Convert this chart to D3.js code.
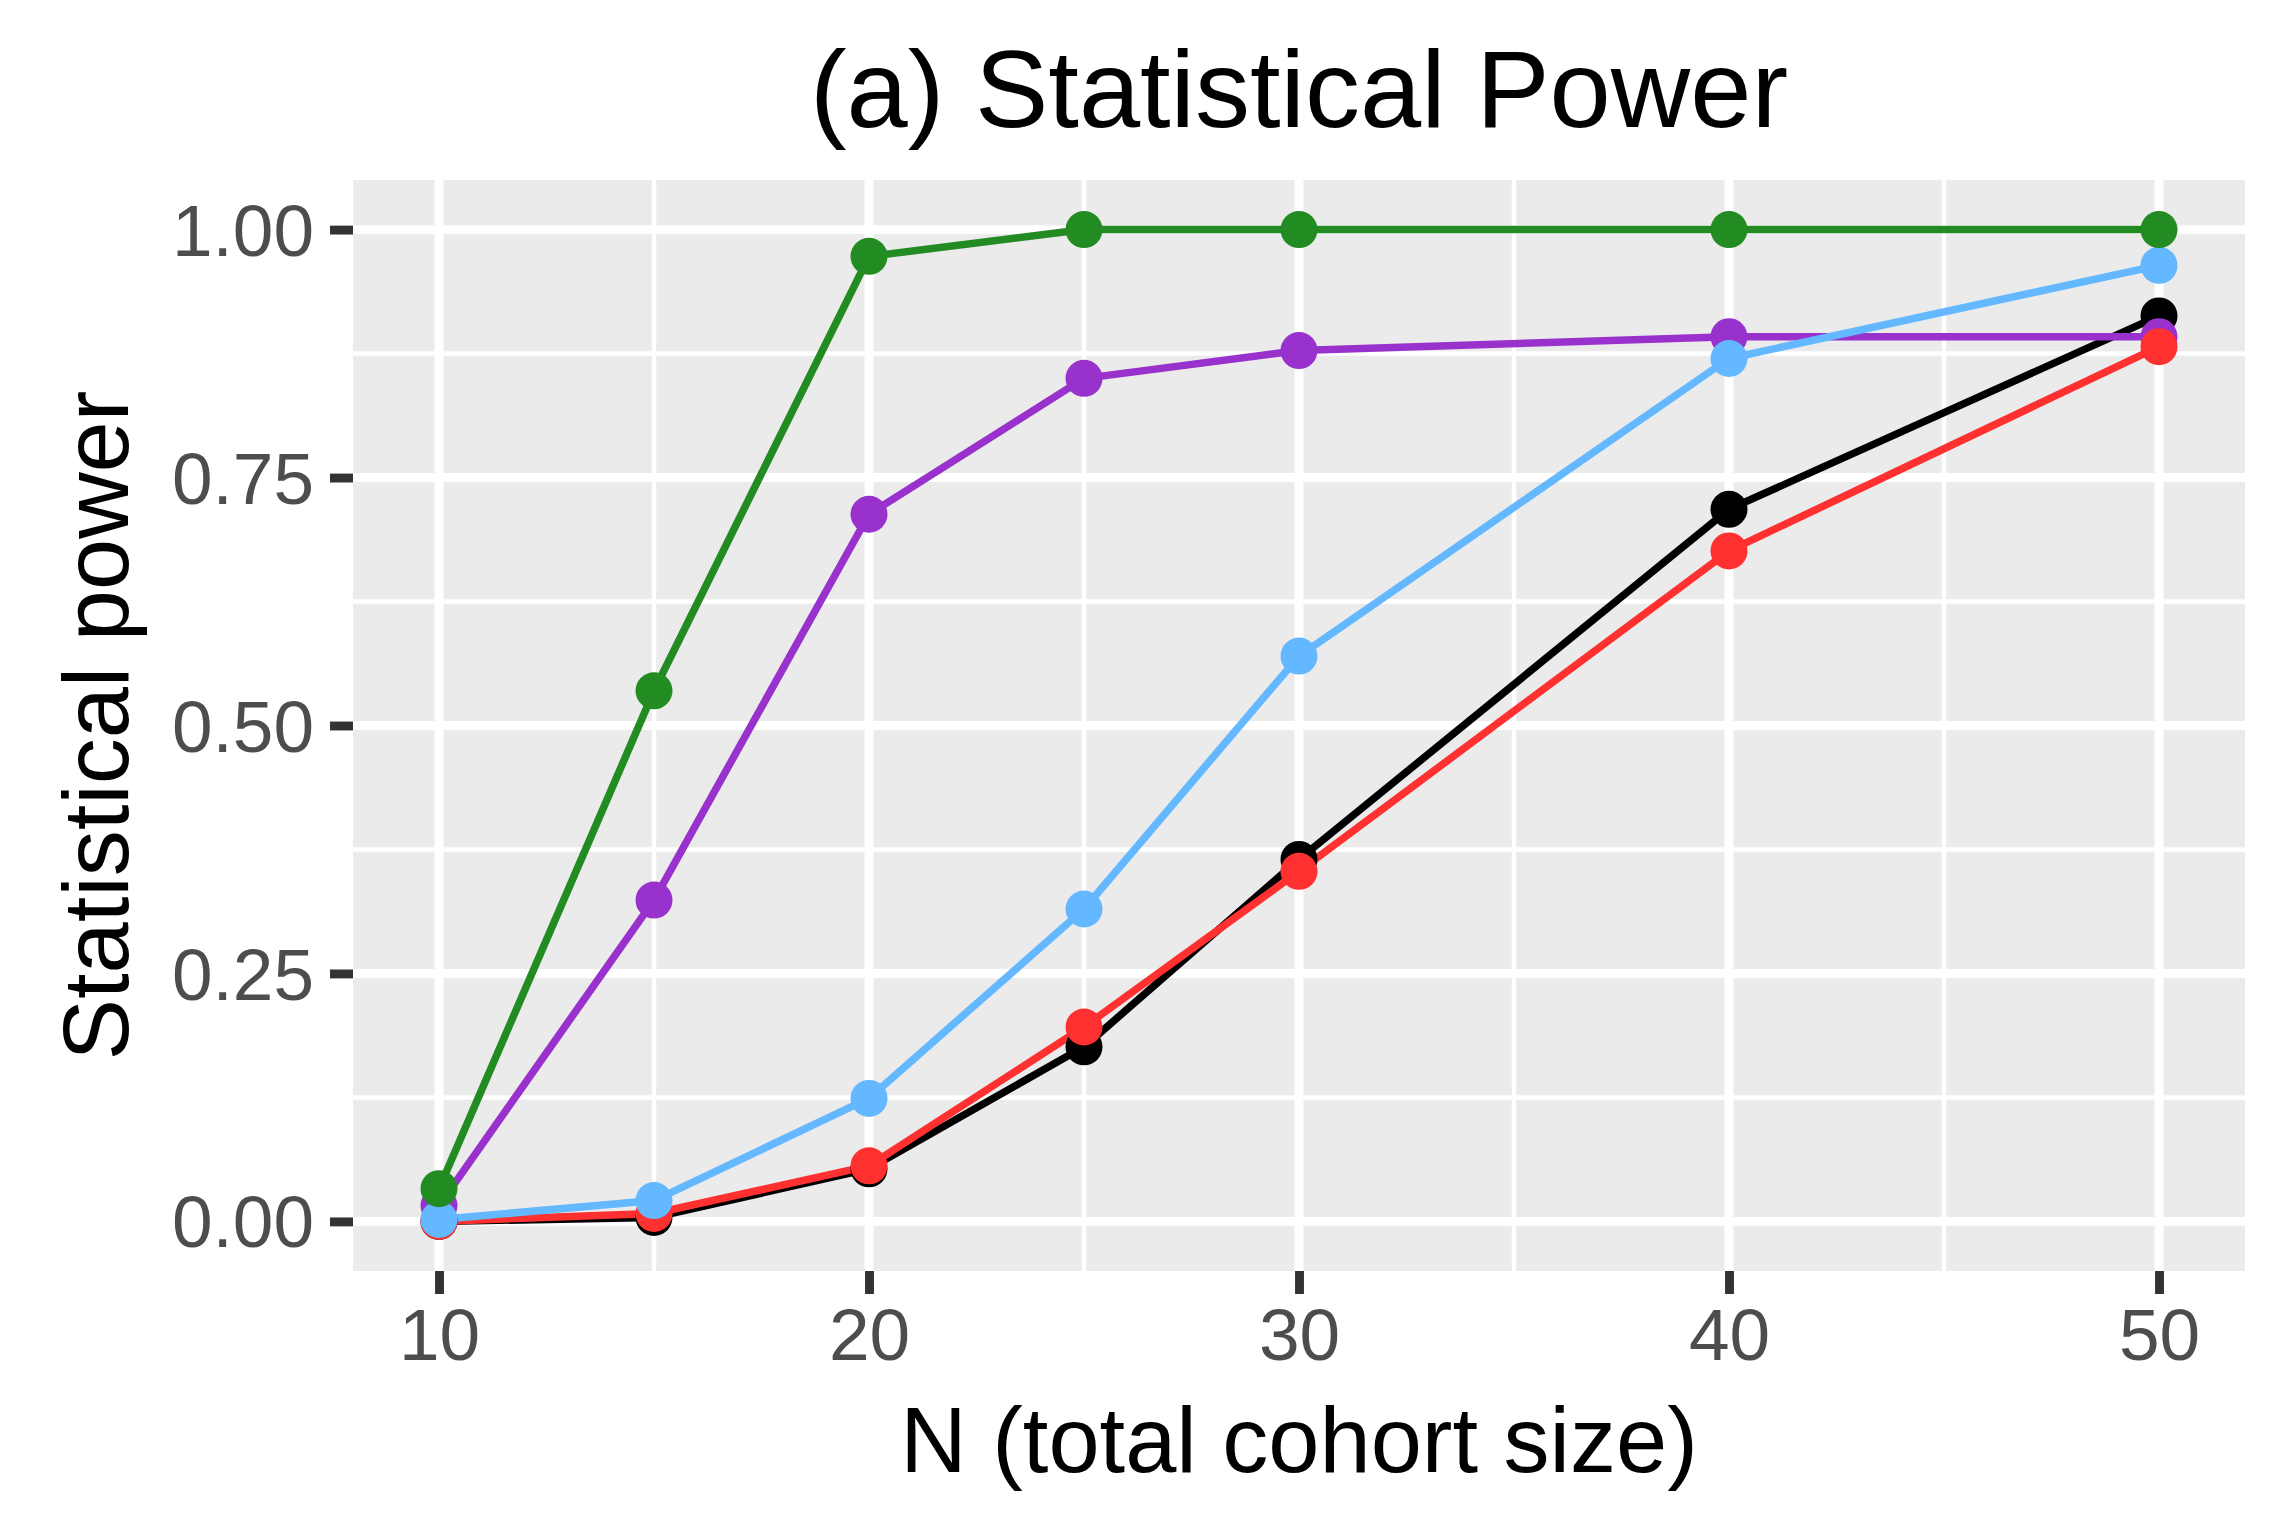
<!DOCTYPE html>
<html>
<head>
<meta charset="utf-8">
<script src="https://cdn.jsdelivr.net/npm/d3@7"></script>
<style>
  html, body { margin: 0; padding: 0; background: #ffffff; }
  svg { display: block; font-family: "Liberation Sans", Arial, Helvetica, sans-serif; }
</style>
</head>
<body>
<svg id="chart" width="2291" height="1535"></svg>
<script>
// ---- data ----
const cohortSizes = [10, 15, 20, 25, 30, 40, 50];
const seriesBlack  = [0.000, 0.004, 0.053, 0.176, 0.365, 0.718, 0.913];
const seriesPurple = [0.016, 0.324, 0.713, 0.850, 0.878, 0.892, 0.892];
const seriesRed    = [0.000, 0.008, 0.056, 0.196, 0.353, 0.676, 0.882];
const seriesBlue   = [0.002, 0.021, 0.124, 0.315, 0.570, 0.870, 0.964];
const seriesGreen  = [0.033, 0.535, 0.973, 1.000, 1.000, 1.000, 1.000];
const seriesColors = ["#000000", "#9932CC", "#FF3030", "#63B8FF", "#228B22"];
const xTicks = [10, 20, 30, 40, 50];
const xMinor = [15, 25, 35, 45];
const yTicks = [0, 0.25, 0.5, 0.75, 1];
const yMinor = [0.125, 0.375, 0.625, 0.875];
const titleText = "(a) Statistical Power";
const xTitle = "N (total cohort size)";
const yTitle = "Statistical power";

const allSeries = [seriesBlack, seriesPurple, seriesRed, seriesBlue, seriesGreen];

// ---- layout ----
const svg = d3.select("#chart");
const panel = { left: 353, right: 2245, top: 180, bottom: 1271 };

const x = d3.scaleLinear().domain([8, 52]).range([panel.left, panel.right]);
const y = d3.scaleLinear().domain([-0.05, 1.05]).range([panel.bottom, panel.top]);

// panel background
svg.append("rect")
  .attr("x", panel.left).attr("y", panel.top)
  .attr("width", panel.right - panel.left).attr("height", panel.bottom - panel.top)
  .attr("fill", "#EBEBEB");

const grid = svg.append("g");
// minor gridlines
grid.selectAll(".xminor").data(xMinor).join("line")
  .attr("x1", d => x(d)).attr("x2", d => x(d))
  .attr("y1", panel.top).attr("y2", panel.bottom)
  .attr("stroke", "#ffffff").attr("stroke-width", 4.45);
grid.selectAll(".yminor").data(yMinor).join("line")
  .attr("y1", d => y(d)).attr("y2", d => y(d))
  .attr("x1", panel.left).attr("x2", panel.right)
  .attr("stroke", "#ffffff").attr("stroke-width", 4.45);
// major gridlines
grid.selectAll(".xmajor").data(xTicks).join("line")
  .attr("x1", d => x(d)).attr("x2", d => x(d))
  .attr("y1", panel.top).attr("y2", panel.bottom)
  .attr("stroke", "#ffffff").attr("stroke-width", 8.9);
grid.selectAll(".ymajor").data(yTicks).join("line")
  .attr("y1", d => y(d)).attr("y2", d => y(d))
  .attr("x1", panel.left).attr("x2", panel.right)
  .attr("stroke", "#ffffff").attr("stroke-width", 8.9);

// axes
const xAxis = d3.axisBottom(x).tickValues(xTicks).tickFormat(d3.format("d"))
  .tickSizeInner(23).tickSizeOuter(0).tickPadding(14);
const yAxis = d3.axisLeft(y).tickValues(yTicks).tickFormat(d3.format(".2f"))
  .tickSizeInner(23).tickSizeOuter(0).tickPadding(16);

const gx = svg.append("g").attr("transform", `translate(0,${panel.bottom})`).call(xAxis);
const gy = svg.append("g").attr("transform", `translate(${panel.left},0)`).call(yAxis);
[gx, gy].forEach(g => {
  g.select(".domain").remove();
  g.selectAll(".tick line").attr("stroke", "#333333").attr("stroke-width", 8.9);
  g.selectAll(".tick text")
    .attr("fill", "#4D4D4D")
    .attr("font-size", 73)
    .attr("font-family", "Liberation Sans, Arial, sans-serif");
});
gx.selectAll(".tick text").attr("dy", "0.71em");
gy.selectAll(".tick text").attr("dy", "0.35em");

// lines
const line = d3.line()
  .x((d, i) => x(cohortSizes[i]))
  .y(d => y(d));

const lines = svg.append("g");
allSeries.forEach((s, k) => {
  lines.append("path")
    .attr("d", line(s))
    .attr("fill", "none")
    .attr("stroke", seriesColors[k])
    .attr("stroke-width", 7.5)
    .attr("stroke-linejoin", "round");
});
const pts = svg.append("g");
allSeries.forEach((s, k) => {
  pts.selectAll(null).data(s).join("circle")
    .attr("cx", (d, i) => x(cohortSizes[i]))
    .attr("cy", d => y(d))
    .attr("r", 18.5)
    .attr("fill", seriesColors[k]);
});

// titles
svg.append("text")
  .attr("x", (panel.left + panel.right) / 2).attr("y", 127)
  .attr("text-anchor", "middle")
  .attr("font-size", 110)
  .attr("fill", "#000000")
  .text(titleText);

svg.append("text")
  .attr("x", (panel.left + panel.right) / 2).attr("y", 1472)
  .attr("text-anchor", "middle")
  .attr("font-size", 92)
  .attr("fill", "#000000")
  .text(xTitle);

svg.append("text")
  .attr("transform", `translate(128,${(panel.top + panel.bottom) / 2}) rotate(-90)`)
  .attr("text-anchor", "middle")
  .attr("font-size", 92)
  .attr("fill", "#000000")
  .text(yTitle);
</script>
</body>
</html>
